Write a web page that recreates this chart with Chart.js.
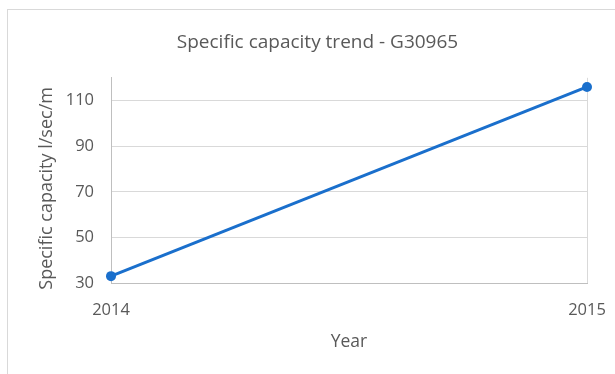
<!DOCTYPE html>
<html>
<head>
<meta charset="utf-8">
<script src="https://cdn.jsdelivr.net/npm/chart.js@4/dist/chart.umd.min.js"></script>
<style>
  html, body { margin: 0; padding: 0; background: #ffffff; }
  #wrap { position: relative; width: 615px; height: 374px; }
</style>
</head>
<body>
<div id="wrap"><canvas id="c" width="615" height="374"></canvas></div>
<script>
// Specific capacity readings per year for well G30965
const years = [2014, 2015];
const specificCapacity = [33, 116];
const yTicks = [30, 50, 70, 90, 110];
const xTicks = [2014, 2015];
const yTitle = 'Specific capacity l/sec/m';

const textColor = '#595959';
const gridColor = '#d9d9d9';
const lineColor = '#1a6fcc';
const fontFamily = '"Open Sans", "Liberation Sans", sans-serif';

// light frame around the chart, title block widened to the frame,
// and the vertical axis title drawn beside the value axis
const decorPlugin = {
  id: 'decor',
  afterLayout(chart) {
    if (chart.titleBlock) {
      chart.titleBlock.left = 20;
      chart.titleBlock.right = 615;
    }
  },
  beforeDraw(chart) {
    const ctx = chart.ctx;
    ctx.save();
    ctx.strokeStyle = '#d9d9d9';
    ctx.lineWidth = 1;
    ctx.strokeRect(7.5, 9.5, 700, 500);
    ctx.restore();
  },
  afterDraw(chart) {
    const ctx = chart.ctx;
    const area = chart.chartArea;
    ctx.save();
    ctx.translate(47, (area.top + area.bottom) / 2 + 8);
    ctx.rotate(-Math.PI / 2);
    ctx.fillStyle = textColor;
    ctx.font = '18px ' + fontFamily;
    ctx.textAlign = 'center';
    ctx.textBaseline = 'middle';
    ctx.fillText(yTitle, 0, 0);
    ctx.restore();
  }
};

new Chart(document.getElementById('c'), {
  type: 'line',
  data: {
    datasets: [{
      data: years.map((y, i) => ({ x: y, y: specificCapacity[i] })),
      borderColor: lineColor,
      backgroundColor: lineColor,
      borderWidth: 3,
      pointRadius: 5,
      pointBorderWidth: 0,
      tension: 0,
      clip: false
    }]
  },
  options: {
    responsive: false,
    animation: false,
    layout: { padding: { left: 0, right: 28, top: 0, bottom: 0 } },
    plugins: {
      legend: { display: false },
      tooltip: { enabled: false },
      title: {
        display: true,
        text: 'Specific capacity trend - G30965',
        color: textColor,
        font: { family: fontFamily, size: 19, weight: 'normal' },
        padding: { top: 31, bottom: 24 }
      }
    },
    scales: {
      x: {
        type: 'linear',
        min: 2014,
        max: 2015,
        afterBuildTicks(scale) { scale.ticks = xTicks.map(v => ({ value: v })); },
        afterFit(scale) {
          scale.height = 91;
          scale.paddingLeft = 0;
          scale.paddingRight = 0;
        },
        ticks: {
          color: textColor,
          font: { family: fontFamily, size: 16.5 },
          padding: 17,
          maxRotation: 0,
          callback: v => String(v)
        },
        grid: { color: gridColor, drawTicks: false },
        border: { color: '#bfbfbf' },
        title: {
          display: true,
          text: 'Year',
          color: textColor,
          font: { family: fontFamily, size: 17.5 },
          padding: { top: 0, bottom: 21 }
        }
      },
      y: {
        min: 30,
        max: 120,
        afterBuildTicks(scale) { scale.ticks = yTicks.map(v => ({ value: v })); },
        afterFit(scale) { scale.width = 111; },
        ticks: {
          color: textColor,
          font: { family: fontFamily, size: 16.5 },
          padding: 17
        },
        grid: { color: gridColor, drawTicks: false },
        border: { color: '#bfbfbf' }
      }
    }
  },
  plugins: [decorPlugin]
});
</script>
</body>
</html>
